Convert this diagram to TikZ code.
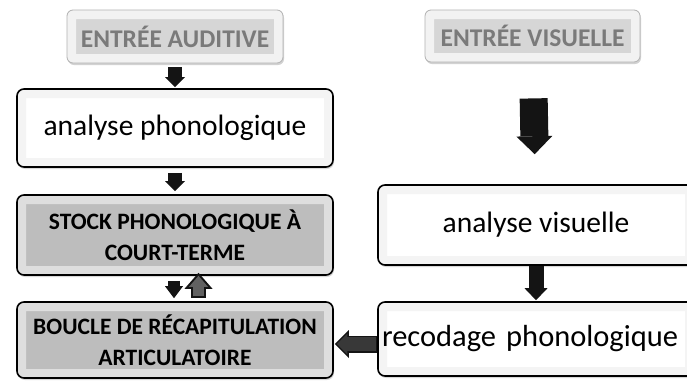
\documentclass[tikz,border=0pt]{standalone}
\usepackage{fontspec}
\setmainfont{Carlito}
\usetikzlibrary{arrows.meta,shadows}

\begin{document}
\begin{tikzpicture}[x=1pt,y=-1pt,
        bevel/.style={path picture={\draw[line width=18pt,#1] (path picture bounding box.south west) rectangle (path picture bounding box.north east);}},
        entry/.style={drop shadow={shadow xshift=1pt,shadow yshift=-2pt,opacity=.35},
            draw=gray!60,line width=.8pt,rounded corners=6pt,fill=gray!32,bevel=gray!10,
            text=black!52,font=\fontsize{25.5}{30}\selectfont\bfseries},
        whitebox/.style={drop shadow={shadow xshift=1pt,shadow yshift=-2pt,opacity=.3},
            draw=black,line width=1.6pt,rounded corners=7pt,fill=white,bevel=gray!9,
            minimum width=316pt,font=\fontsize{29.5}{34}\selectfont},
        graybox/.style={whitebox,fill=gray!52,bevel=gray!26,align=center,
            font=\fontsize{23.5}{31}\selectfont\bfseries},
        blk/.style={draw=black!92,line cap=butt}]
    \clip (0,0) rectangle (687,381);
    \fill[white] (0,0) rectangle (687,381);
    \coordinate (dnx) at (174,0);
    \coordinate (upx) at (198.5,0);
    \coordinate (arrowy) at (0,344);
    % left column
    \node[entry,minimum width=216pt,minimum height=53pt] (audin) at (175,36.5) {ENTRÉE AUDITIVE};
    \node[whitebox,minimum height=78pt] (aphon) at (175,128) {analyse phonologique};
    \node[graybox,minimum height=80pt] (stock) at (175,235) {STOCK PHONOLOGIQUE À\\COURT-TERME};
    \node[graybox,minimum height=76pt] (boucle) at (175,340) {BOUCLE DE RÉCAPITULATION\\ARTICULATOIRE};
    % right column
    \node[entry,minimum width=215pt,minimum height=52pt] (visin) at (532.5,36) {ENTRÉE VISUELLE};
    \node[whitebox,minimum height=80pt] (avis) at (536,225) {analyse visuelle};
    \node[whitebox,minimum height=74pt,text width=308pt,inner xsep=4pt,font=\fontsize{30.5}{34}\selectfont] (recod) at (536,339) {recodage phonologique};
    % arrows
    \draw[blk,line width=14pt,-{Triangle[width=20pt,length=10pt,line width=0pt]},shorten <=4pt,shorten >=1pt] (audin) -- (aphon);
    \draw[blk,line width=14pt,-{Triangle[width=20pt,length=10pt,line width=0pt]},shorten <=5pt,shorten >=3pt] (aphon) -- (stock);
    \draw[blk,line width=12pt,-{Triangle[width=18pt,length=12pt,line width=0pt]},shorten <=5pt,shorten >=3pt] (stock.south -| dnx) -- (boucle.north -| dnx);
    \draw[blk,line width=15pt,-{Triangle[width=28pt,length=16pt,line width=0pt]},shorten <=3pt,shorten >=-3pt] (boucle.north -| upx) -- (stock.south -| upx);
    \draw[black!62,line width=11pt,line cap=butt,-{Triangle[width=19pt,length=11pt,line width=0pt]},shorten <=5pt,shorten >=0pt] (boucle.north -| upx) -- (stock.south -| upx);
    \draw[blk,line width=28pt,-{Triangle[width=36pt,length=18pt,line width=0pt]},shorten <=36pt,shorten >=30pt] (visin) -- (avis);
    \draw[blk,line width=15pt,-{Triangle[width=23pt,length=12pt,line width=0pt]},shorten >=1pt] (avis) -- (recod);
    \draw[blk,line width=17pt,-{Triangle[width=28pt,length=14pt,line width=0pt]},shorten >=1pt] (recod.west |- arrowy) -- (boucle.east |- arrowy);
    \draw[black!78,line width=14pt,line cap=butt,-{Triangle[width=21pt,length=10.4pt,line width=0pt]},shorten <=1.5pt,shorten >=3.1pt] (recod.west |- arrowy) -- (boucle.east |- arrowy);
\end{tikzpicture}
\end{document}
